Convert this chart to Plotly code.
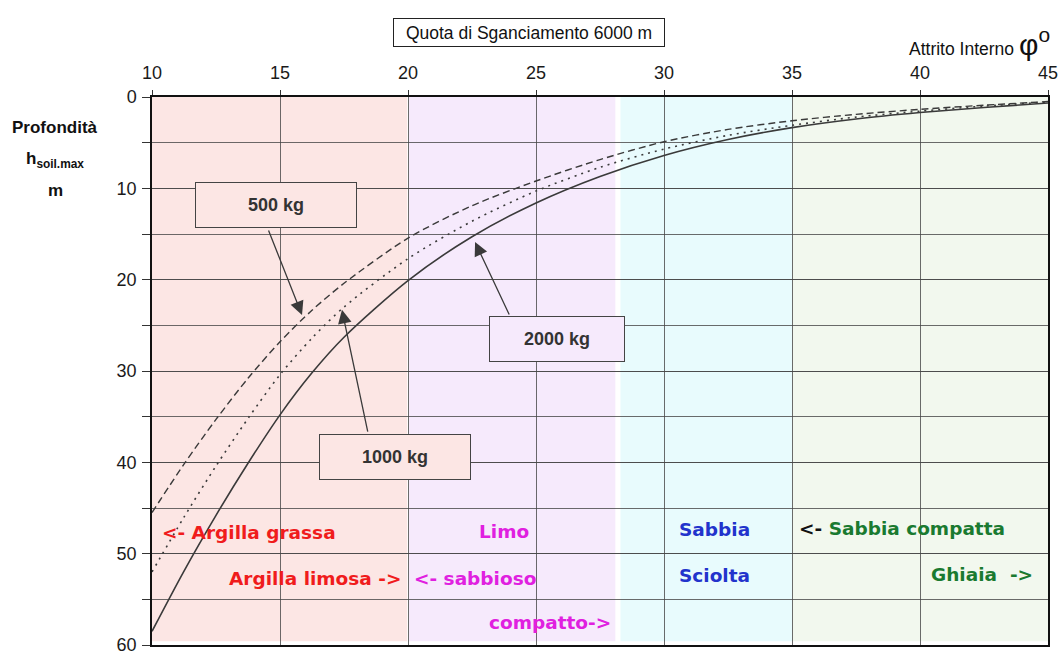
import plotly.graph_objects as go

# ---------------- data ----------------
phi = [10, 11.25, 12.5, 13.75, 15, 16.25, 17.5, 20, 22.5, 25, 27.5, 30, 32.5, 35, 37.5, 40, 42.5, 45]
h_500 = [45.5, 40.2, 35.3, 30.8, 26.8, 23.35, 20.4, 15.45, 11.9, 9.2, 6.85, 4.9, 3.55, 2.6, 1.9, 1.35, 0.9, 0.5]
h_1000 = [52.0, 46.0, 40.4, 35.2, 30.4, 26.4, 23.0, 17.7, 13.6, 10.3, 7.7, 5.7, 4.2, 3.1, 2.2, 1.55, 1.0, 0.55]
h_2000 = [58.5, 51.9, 45.8, 40.1, 34.8, 30.2, 26.3, 20.1, 15.3, 11.6, 8.7, 6.4, 4.65, 3.35, 2.4, 1.7, 1.15, 0.65]

x_ticks = [10, 15, 20, 25, 30, 35, 40, 45]
y_ticks = [0, 10, 20, 30, 40, 50, 60]

# soil zones (phi ranges) and colours
zone_x0 = [10, 20.04, 28.3, 35]
zone_x1 = [19.97, 28.1, 35, 45]
zone_col = ["#fce6e4", "#f6eafc", "#e8fbfd", "#f2f8ee"]

# soil labels: text, x, y, anchor
soil_text = [
    "<- Argilla grassa",
    "Argilla limosa ->",
    "Limo",
    "<- sabbioso",
    "compatto->",
    "Sabbia",
    "Sciolta",
    "<span style='color:#111111'><-</span> Sabbia compatta",
    "Ghiaia&nbsp; ->",
]
soil_x = [10.3, 19.8, 24.8, 20.15, 23.1, 30.5, 30.5, 35.2, 44.5]
soil_y = [47.7, 52.7, 47.6, 52.7, 57.5, 47.4, 52.4, 47.2, 52.3]
soil_anchor = ["left", "right", "right", "left", "left", "left", "left", "left", "right"]
soil_color = ["#f01c1c", "#f01c1c", "#e020e0", "#e020e0", "#e020e0",
              "#2233cc", "#2233cc", "#1a7a30", "#1a7a30"]

# labelled boxes and arrows
box_text = ["500 kg", "1000 kg", "2000 kg"]
box_x = [14.84, 19.49, 25.82]
box_y = [11.77, 39.4, 26.55]
box_w = [160, 150, 134]
box_bg = ["#fce6e4", "#fce6e4", "#f6eafc"]
arrow_tail_x = [14.53, 18.44, 23.98]
arrow_tail_y = [14.45, 36.8, 23.98]
arrow_tip_x = [15.86, 17.42, 22.62]
arrow_tip_y = [23.87, 23.3, 15.88]

line_col = "#3a3a3a"

fig = go.Figure()

fig.add_trace(go.Scatter(x=phi, y=h_500, mode="lines", name="500 kg",
                         line=dict(color=line_col, width=1.4, dash="7px,4px", shape="spline", smoothing=0.8)))
fig.add_trace(go.Scatter(x=phi, y=h_1000, mode="lines", name="1000 kg",
                         line=dict(color=line_col, width=1.6, dash="2px,5px", shape="spline", smoothing=0.8)))
fig.add_trace(go.Scatter(x=phi, y=h_2000, mode="lines", name="2000 kg",
                         line=dict(color=line_col, width=1.6, shape="spline", smoothing=0.8)))

shapes = []
for x0, x1, c in zip(zone_x0, zone_x1, zone_col):
    shapes.append(dict(type="rect", xref="x", yref="y", x0=x0, x1=x1, y0=0, y1=59.6,
                       fillcolor=c, line=dict(width=0), layer="below"))

annotations = []
for t, x, y, a, c in zip(soil_text, soil_x, soil_y, soil_anchor, soil_color):
    annotations.append(dict(text="<b>" + t + "</b>", x=x, y=y, xref="x", yref="y",
                            xanchor=a, yanchor="middle", showarrow=False,
                            font=dict(family="DejaVu Sans", size=18.5, color=c)))

for tx, ty, hx, hy in zip(arrow_tail_x, arrow_tail_y, arrow_tip_x, arrow_tip_y):
    annotations.append(dict(text="", x=hx, y=hy, xref="x", yref="y",
                            ax=tx, ay=ty, axref="x", ayref="y", showarrow=True,
                            arrowhead=2, arrowsize=2.1, arrowwidth=1.3,
                            arrowcolor="#3a3a3a"))

for t, x, y, w, bg in zip(box_text, box_x, box_y, box_w, box_bg):
    annotations.append(dict(text="<b>" + t + "</b>", x=x, y=y, xref="x", yref="y",
                            xanchor="center", yanchor="middle",
                            showarrow=False, width=w, height=44, bgcolor=bg,
                            bordercolor="#444444", borderwidth=1, borderpad=0,
                            font=dict(family="Liberation Sans", size=18, color="#333333")))

# title box
annotations.append(dict(text="Quota di Sganciamento 6000 m", x=0.4208, y=1.1177,
                        xref="paper", yref="paper", showarrow=False,
                        xanchor="center", yanchor="middle",
                        width=270, height=27, bgcolor="white", bordercolor="#222222",
                        borderwidth=1, borderpad=0,
                        font=dict(family="Liberation Sans", size=17.5, color="#111111")))
annotations.append(dict(text="Attrito Interno <span style='font-size:30px'>φ<sup>o</sup></span>",
                        x=1.005, y=1.10, xref="paper", yref="paper",
                        xanchor="right", yanchor="middle", showarrow=False,
                        font=dict(family="Liberation Sans", size=17.5, color="#111111")))
# y-axis label lines
ylab_text = ["<b>Profondità</b>", "<b>h<sub>soil.max</sub></b>", "<b>m</b>"]
ylab_py = [128, 160, 190]
for t, py in zip(ylab_text, ylab_py):
    annotations.append(dict(text=t, x=-0.108, y=1 - (py - 97) / 548,
                            xref="paper", yref="paper", showarrow=False,
                            xanchor="center", yanchor="middle",
                            font=dict(family="Liberation Sans", size=17, color="#111111")))

grid_col = "rgba(70,70,70,0.8)"

fig.update_layout(
    width=1060, height=653,
    margin=dict(l=152, r=12, t=97, b=8, autoexpand=False),
    paper_bgcolor="white", plot_bgcolor="white",
    showlegend=False,
    shapes=shapes, annotations=annotations,
    xaxis=dict(side="top", range=[10, 45], tickvals=x_ticks,
               ticktext=[str(v) for v in x_ticks], automargin=False,
               showgrid=True, gridcolor=grid_col, gridwidth=1,
               showline=True, linecolor="#111111", linewidth=1.5, mirror=True,
               ticks="outside", ticklen=5, tickcolor="#333333",
               ticklabelstandoff=4, zeroline=False, ticklabeloverflow="allow",
               tickfont=dict(family="Liberation Sans", size=18, color="#1a1a1a")),
    yaxis=dict(range=[60, 0], tickvals=y_ticks, ticktext=[str(v) for v in y_ticks],
               automargin=False,
               showgrid=True, gridcolor=grid_col, gridwidth=1,
               showline=True, linecolor="#111111", linewidth=1.5, mirror=True,
               ticks="outside", ticklen=8, tickcolor="#333333", zeroline=False,
               ticklabelstandoff=2, ticklabeloverflow="allow",
               minor=dict(dtick=5, tick0=0, showgrid=True, gridcolor=grid_col,
                          gridwidth=1, ticks="outside", ticklen=8, tickcolor="#333333"),
               tickfont=dict(family="Liberation Sans", size=18, color="#1a1a1a")),
)

# remove the page's default body margin so the figure fills the window exactly
fig.write_html("out.html",
               config={"displayModeBar": False},
               post_script="document.body.style.margin='0';document.body.style.overflow='hidden';")
